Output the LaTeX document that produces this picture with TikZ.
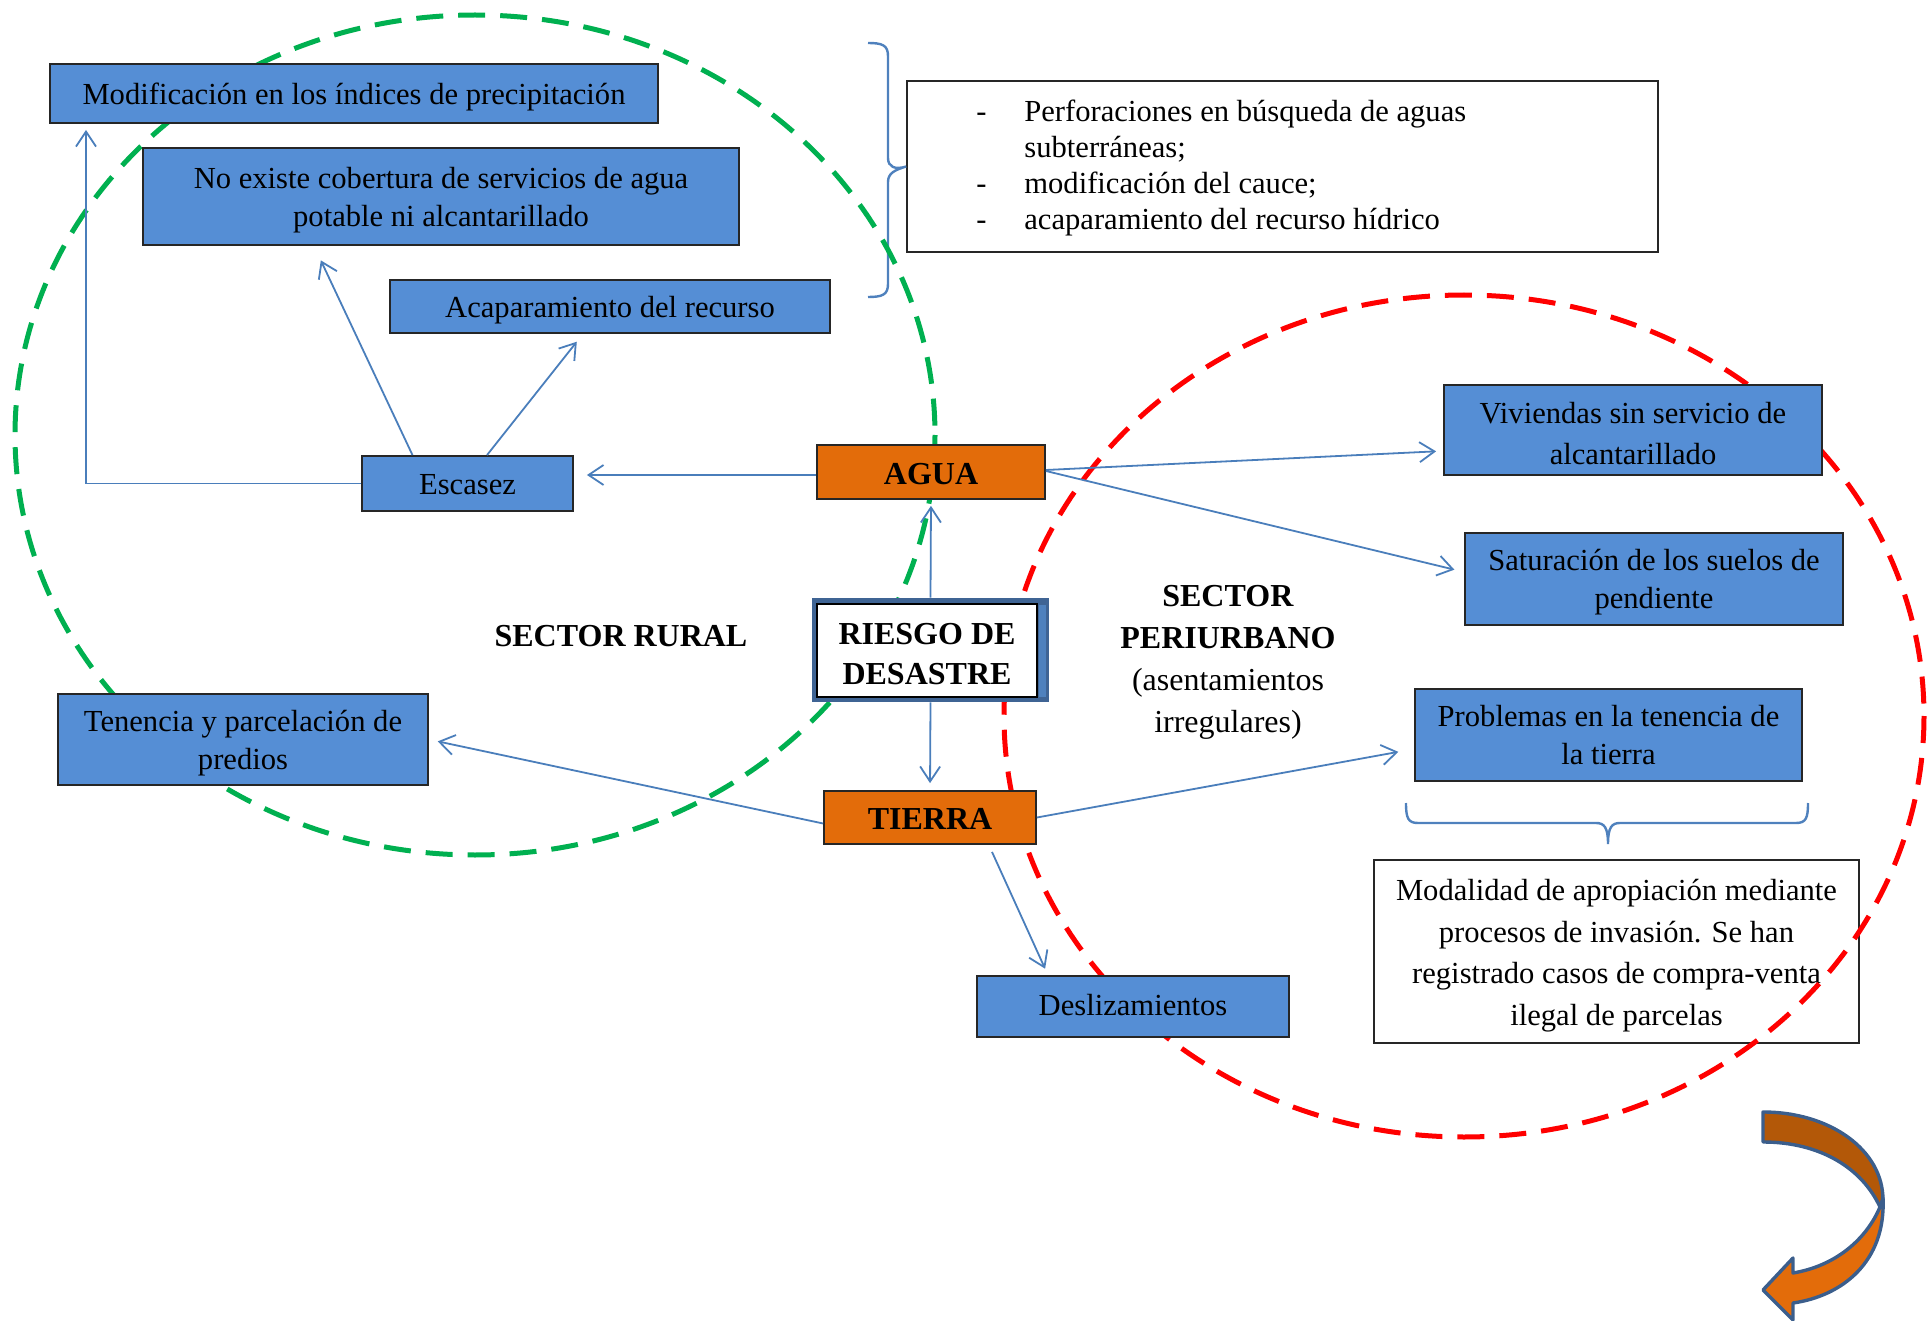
\documentclass[tikz,border=0pt]{standalone}
\usepackage{fontspec}
\setmainfont{Liberation Serif}
\usetikzlibrary{arrows.meta}
\definecolor{boxblue}{HTML}{558ED5}
\definecolor{boxorange}{HTML}{E36C0A}
\definecolor{linkblue}{HTML}{4A7EBB}
\definecolor{frameblue}{HTML}{3F6494}
\definecolor{framelight}{HTML}{4F81BD}
\definecolor{ringgreen}{HTML}{00B050}
\definecolor{ringred}{HTML}{FF0000}
\definecolor{turndark}{HTML}{B35808}
\definecolor{turnedge}{HTML}{3B5E8C}
% centred lines, set a little below the middle of their box
\newcommand\boxtxt[2][-1.5pt]{\raisebox{#1}[\height][\depth]{\begin{tabular}{@{}c@{}}#2\end{tabular}}}
\begin{document}
\begin{tikzpicture}[x=0.5pt,y=-0.5pt,
  txt/.style={font=\fontsize{15.3}{19}\selectfont, inner sep=0pt},
  bluebox/.style={txt, draw=black!85, line width=0.9pt, fill=boxblue},
  orangebox/.style={draw=black!85, line width=0.9pt, fill=boxorange, inner sep=0pt,
    font=\fontsize{16}{19}\selectfont\bfseries},
  notebox/.style={draw=black!85, line width=0.8pt, inner sep=0pt},
  ring/.style={line width=2.5pt, dash pattern=on 13.5pt off 7.5pt},
  conn/.style={draw=linkblue, line width=0.9pt, -{Straight Barb[length=7.5pt,width=10pt]}},
  brace/.style={draw=framelight, line width=1.2pt},
  label/.style={font=\fontsize{16}{21}\selectfont, align=center, inner sep=0pt}
]
\useasboundingbox (0,0) rectangle (1929,1321);

% text box with the list of water-related practices, and its brace
\node[notebox, minimum width=375.5pt, minimum height=85.5pt] (practicas) at (1282.5,166.5) {};
\node[anchor=west, inner sep=0pt, font=\fontsize{15.3}{18}\selectfont] (lista) at (976,168)
  {\begin{tabular}{@{}p{24pt}@{}l@{}}
   - & Perforaciones en búsqueda de aguas\\
     & subterráneas;\\
   - & modificación del cauce;\\
   - & acaparamiento del recurso hídrico
   \end{tabular}};
\path[brace] (868,43) .. controls (882,43) and (888,45) .. (888,56) -- (888,158)
  .. controls (888,167) and (895,170) .. (practicas.west)
  .. controls (895,170) and (888,173) .. (888,182) -- (888,284)
  .. controls (888,295) and (882,297) .. (868,297);

% text box describing land appropriation, and its brace
\node[notebox, font=\fontsize{15.3}{20.8}\selectfont, minimum width=242.5pt, minimum height=91.5pt]
  (modalidad) at (1616.5,951.5)
  {\boxtxt{Modalidad de apropiación mediante\\procesos de invasión. Se han\\registrado casos de compra-venta\\ilegal de parcelas}};
\path[brace] (1406,803) .. controls (1406,818) and (1408,823) .. (1418,823) -- (1596,823)
  .. controls (1604,823) and (1608,827) .. (1608,844)
  .. controls (1608,827) and (1612,823) .. (1620,823) -- (1796,823)
  .. controls (1806,823) and (1808,818) .. (1808,803);

% the two sector rings
\draw[ring, draw=ringgreen] (475,435) ellipse [x radius=460, y radius=420];
\draw[ring, draw=ringred] (1464,716) ellipse [x radius=460, y radius=421];

% rural sector boxes
\node[bluebox, minimum width=304pt, minimum height=29.5pt] (modif) at (354,93.5)
  {\boxtxt{Modificación en los índices de precipitación}};
\node[bluebox, minimum width=298pt, minimum height=48.5pt] (noexiste) at (441,196.5)
  {\boxtxt{No existe cobertura de servicios de agua\\potable ni alcantarillado}};
\node[bluebox, minimum width=220pt, minimum height=26.5pt] (acap) at (610,306.5)
  {\boxtxt{Acaparamiento del recurso}};
\node[bluebox, minimum width=105.5pt, minimum height=27.5pt] (esc) at (467.5,483.5)
  {\boxtxt{Escasez}};
\node[bluebox, minimum width=185pt, minimum height=45.5pt] (tenencia) at (243,739.5)
  {\boxtxt{Tenencia y parcelación de\\predios}};

% peri-urban sector boxes
\node[bluebox, font=\fontsize{15.3}{20.5}\selectfont, minimum width=189pt, minimum height=45pt] (viv) at (1633,430)
  {\boxtxt[-2.8pt]{Viviendas sin servicio de\\alcantarillado}};
\node[bluebox, minimum width=189pt, minimum height=46pt] (sat) at (1654,579)
  {\boxtxt{Saturación de los suelos de\\pendiente}};
\node[bluebox, minimum width=193.5pt, minimum height=46pt] (prob) at (1608.5,735)
  {\boxtxt{Problemas en la tenencia de\\la tierra}};
\node[bluebox, minimum width=156pt, minimum height=30.5pt] (desl) at (1133,1006.5)
  {\boxtxt[-0.5pt]{Deslizamientos}};

% central nodes
\node[orangebox, minimum width=114pt, minimum height=27pt] (agua) at (931,472) {\boxtxt[-2.2pt]{AGUA}};
\node[orangebox, minimum width=106pt, minimum height=26.5pt] (tierra) at (930,817.5) {\boxtxt[-2.2pt]{TIERRA}};
\node[fill=frameblue, minimum width=118.5pt, minimum height=52pt, inner sep=0pt] (riesgo) at (930.5,650) {};
\fill[framelight] (1039,605) rectangle (1046,697);
\node[draw=black, fill=white, line width=0.8pt, minimum width=110pt, minimum height=46.5pt,
  inner sep=0pt, font=\fontsize{16}{20}\selectfont\bfseries] (riesgotxt) at (927,650.5)
  {\boxtxt[-3.2pt]{RIESGO DE\\DESASTRE}};

% sector labels
\node[label, font=\fontsize{16}{21}\selectfont\bfseries] (rural) at (621,636) {SECTOR RURAL};
\node[label] (periurbano) at (1228,662)
  {\textbf{SECTOR}\\\textbf{PERIURBANO}\\(asentamientos\\irregulares)};

% connectors
\coordinate (tipmod) at (86,130);
\draw[conn] (esc.west) -| (tipmod);
\draw[conn, shorten >=8pt] ([xshift=-27.5pt]esc.north) -- ([xshift=-63.5pt]noexiste.south);
\draw[conn, shorten >=5pt] ([xshift=9.75pt]esc.north) -- ([xshift=-13.5pt]acap.south);
\draw[conn, shorten >=6.5pt] ([yshift=-1.5pt]agua.west) -- ([yshift=-1.5pt]agua.west -| esc.east);
\draw[conn, shorten >=3pt] (riesgo.north) -- (agua.south);
\draw[conn, shorten >=3.5pt] (riesgo.south) -- (tierra.north);
\draw[conn, shorten >=3.5pt] ([yshift=1pt]agua.east) -- ([yshift=-10.5pt]viv.west);
\draw[conn, shorten >=5pt] ([yshift=0.5pt]agua.east) -- ([yshift=3.5pt]sat.west);
\draw[conn, shorten >=4.5pt] ([yshift=-3pt]tierra.west) -- (tenencia.east);
\draw[conn, shorten >=8pt] (tierra.east) -- ([yshift=-7pt]prob.west);
\draw[conn, shorten >=3.5pt] ([xshift=31pt,yshift=-3.5pt]tierra.south) -- ([xshift=-42.5pt]desl.north);

% curved turning arrow
\path[fill=turndark, draw=turnedge, line width=1.7pt, line join=round]
  (1763,1112) .. controls (1830,1112) and (1883,1150) .. (1883,1200)
  .. controls (1883,1203) and (1882,1205) .. (1880,1207)
  .. controls (1862,1168) and (1820,1142) .. (1763,1142) -- cycle;
\path[fill=boxorange, draw=turnedge, line width=1.7pt, line join=round]
  (1883,1198) .. controls (1886,1262) and (1842,1296) .. (1793,1303)
  -- (1793,1320) -- (1763,1290) -- (1793,1258) -- (1793,1273)
  .. controls (1835,1266) and (1866,1240) .. (1880,1207) -- cycle;
\end{tikzpicture}
\end{document}
